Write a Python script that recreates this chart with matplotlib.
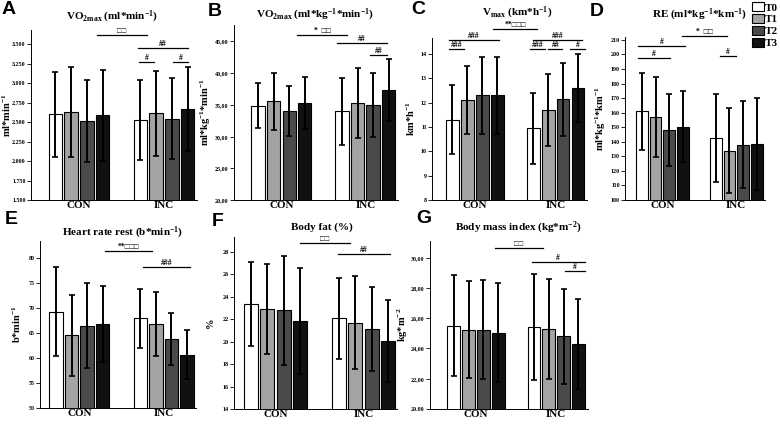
import numpy as np
import matplotlib.pyplot as plt
from matplotlib.patches import Patch

plt.rcParams['font.family'] = ['Liberation Serif', 'DejaVu Serif', 'DejaVu Sans']
plt.rcParams['font.weight'] = 'bold'
plt.rcParams['mathtext.default'] = 'regular'

groups = ["CON", "INC"]
times = ["T0", "T1", "T2", "T3"]
colors = ["white", "#a3a3a3", "#4a4a4a", "#111111"]

# rows: CON, INC ; cols: T0..T3
vo2_abs = [[2600, 2625, 2515, 2585], [2525, 2610, 2545, 2665]]
vo2_abs_sd = [[545, 575, 530, 580], [515, 550, 515, 540]]
vo2_rel = [[34.9, 35.6, 34.1, 35.3], [34.0, 35.3, 35.0, 37.4]]
vo2_rel_sd = [[3.6, 4.5, 3.95, 4.05], [5.25, 5.55, 5.1, 4.9]]
vmax = [[11.3, 12.1, 12.3, 12.3], [10.95, 11.7, 12.15, 12.6]]
vmax_sd = [[1.42, 1.4, 1.57, 1.57], [1.45, 1.48, 1.5, 1.4]]
re = [[161, 157, 148, 150.5], [142.5, 134, 138, 138.5]]
re_sd = [[26.5, 27.5, 24.5, 24.5], [30.2, 29, 30, 31.5]]
hr = [[69.3, 64.6, 66.5, 66.8], [68.0, 66.8, 63.8, 60.7]]
hr_sd = [[8.85, 8.1, 8.5, 7.65], [5.9, 6.45, 5.15, 4.85]]
fat = [[23.4, 22.9, 22.8, 21.85], [22.1, 21.7, 21.15, 20.1]]
fat_sd = [[3.75, 4.0, 4.85, 4.75], [3.6, 4.15, 3.75, 3.65]]
bmi = [[25.5, 25.25, 25.25, 25.05], [25.4, 25.3, 24.8, 24.3]]
bmi_sd = [[3.35, 3.2, 3.25, 3.25], [3.5, 3.3, 3.15, 3.0]]

# y ticks
a_ticks = [1500, 1750, 2000, 2250, 2500, 2750, 3000, 3250, 3500]
a_labels = ["1.500", "1.750", "2.000", "2.250", "2.500", "2.750", "3.000", "3.250", "3.500"]
b_ticks = [20, 25, 30, 35, 40, 45]
b_labels = ["20,00", "25,00", "30,00", "35,00", "40,00", "45,00"]
c_ticks = [8, 9, 10, 11, 12, 13, 14]
c_labels = ["8", "9", "10", "11", "12", "13", "14"]
d_ticks = [100, 110, 120, 130, 140, 150, 160, 170, 180, 190, 200, 210]
d_labels = [str(t) for t in d_ticks]
e_ticks = [50, 55, 60, 65, 70, 75, 80]
e_labels = [str(t) for t in e_ticks]
f_ticks = [14, 16, 18, 20, 22, 24, 26, 28]
f_labels = [str(t) for t in f_ticks]
g_ticks = [20, 22, 24, 26, 28, 30]
g_labels = ["20.00", "22,00", "24,00", "26,00", "28,00", "30,00"]

# significance marks: (x start, x end, y, label)
sq = "\u25a1"
sig_a = [(2.65, 5.83, 3616, sq * 2), (5.26, 8.43, 3449, "##"),
         (5.32, 6.27, 3270, "#"), (7.48, 8.43, 3270, "#")]
sig_b = [(2.51, 5.72, 46.0, "*  " + sq * 2), (5.08, 8.29, 44.76, "##"),
         (7.2, 8.29, 42.87, "##")]
sig_c = [(-0.21, 0.79, 14.21, "###"), (-0.21, 3.1, 14.58, "###"),
         (2.71, 5.69, 15.03, "**" + sq * 3), (5.36, 8.67, 14.58, "###"),
         (5.16, 6.22, 14.21, "###"), (6.42, 7.35, 14.21, "##"),
         (7.88, 8.87, 14.21, "#")]
sig_d = [(-0.28, 3.15, 205.8, "#"), (-0.28, 2.06, 197.6, "#"),
         (2.93, 6.22, 212.7, "*  " + sq * 2), (5.71, 6.88, 199, "#")]
sig_e = [(3.15, 6.17, 81.4, "**" + sq * 3), (5.58, 8.6, 78.2, "###")]
sig_f = [(3.0, 6.07, 28.81, sq * 2), (5.33, 8.52, 27.83, "##")]
sig_g = [(2.78, 5.99, 30.64, sq * 2), (5.26, 8.82, 29.72, "#"),
         (7.48, 8.82, 29.13, "#")]

W, H = 780, 424
gap = 5.4


def rect(l, t, r, b):
    return [l / W, 1 - b / H, (r - l) / W, (b - t) / H]


panels = [
    dict(letter="A", m=vo2_abs, s=vo2_abs_sd, sig=sig_a, box=(31, 30, 197, 200),
         xlim=(-1.55, 9.0), ylim=(1500, 3680), ticks=a_ticks, tl=a_labels,
         title=r"VO$_{2max}$ (ml*min$^{-1}$)", txy=(112, 17), lxy=(9, 10),
         ylab=r"ml*min$^{-1}$", yx=7),
    dict(letter="B", m=vo2_rel, s=vo2_rel_sd, sig=sig_b, box=(234, 25, 398, 200),
         xlim=(-1.55, 9.0), ylim=(20, 47.6), ticks=b_ticks, tl=b_labels,
         title=r"VO$_{2max}$ (ml*kg$^{-1}$*min$^{-1}$)", txy=(315, 15), lxy=(215, 11),
         ylab=r"ml*kg$^{-1}$*min$^{-1}$", yx=206),
    dict(letter="C", m=vmax, s=vmax_sd, sig=sig_c, box=(432, 38, 587, 200),
         xlim=(-1.36, 9.0), ylim=(8, 14.66), ticks=c_ticks, tl=c_labels,
         title=r"V$_{max}$ (km*h$^{-1}$)", txy=(517, 13), lxy=(418, 10),
         ylab=r"km*h$^{-1}$", yx=411),
    dict(letter="D", m=re, s=re_sd, sig=sig_d, box=(625, 37, 765, 200),
         xlim=(-1.23, 9.0), ylim=(100, 212), ticks=d_ticks, tl=d_labels,
         title=r"RE (ml*kg$^{-1}$*km$^{-1}$)", txy=(700, 15), lxy=(597, 11),
         ylab=r"ml*kg$^{-1}$*km$^{-1}$", yx=601),
    dict(letter="E", m=hr, s=hr_sd, sig=sig_e, box=(40, 241, 196, 408),
         xlim=(-1.02, 8.97), ylim=(50, 83.4), ticks=e_ticks, tl=e_labels,
         title=r"Heart rate rest (b*min$^{-1}$)", txy=(123, 233), lxy=(11, 220),
         ylab=r"b*min$^{-1}$", yx=17),
    dict(letter="F", m=fat, s=fat_sd, sig=sig_f, box=(234, 237, 397, 409),
         xlim=(-1.05, 8.96), ylim=(14, 29.34), ticks=f_ticks, tl=f_labels,
         title="Body fat (%)", txy=(322, 227), lxy=(218, 221),
         ylab="%", yx=210),
    dict(letter="G", m=bmi, s=bmi_sd, sig=sig_g, box=(430, 241, 588, 409),
         xlim=(-1.6, 9.04), ylim=(20, 31.1), ticks=g_ticks, tl=g_labels,
         title=r"Body mass index (kg*m$^{-2}$)", txy=(518, 228), lxy=(424, 218),
         ylab=r"kg*m$^{-2}$", yx=403),
]

fig = plt.figure(figsize=(7.8, 4.24), dpi=100)

for p in panels:
    ax = fig.add_axes(rect(*p["box"]))
    for g in range(2):
        for i in range(4):
            x = g * gap + i
            ax.bar(x, p["m"][g][i], width=0.86, color=colors[i], edgecolor="black",
                   linewidth=0.8, zorder=2)
            ax.errorbar(x, p["m"][g][i], yerr=p["s"][g][i], fmt="none", ecolor="black",
                        elinewidth=1.4, capsize=2.5, capthick=1.2, zorder=3)
    ax.set_xlim(*p["xlim"])
    ax.set_ylim(*p["ylim"])
    ax.set_yticks(p["ticks"])
    ax.set_yticklabels(p["tl"], fontsize=4.3)
    ax.set_xticks([1.5, gap + 1.5])
    ax.set_xticklabels(groups, fontsize=8)
    ax.tick_params(axis="x", length=0, pad=1)
    ax.tick_params(axis="y", length=3, width=0.6, pad=0.8)
    for s in ["top", "right"]:
        ax.spines[s].set_visible(False)
    ax.spines["left"].set_linewidth(0.7)
    ax.spines["bottom"].set_linewidth(0.7)
    l, t, r, b = p["box"]
    fig.text(p["yx"] / W, 1 - (t + b) / 2 / H, p["ylab"], rotation=90,
             ha="center", va="center", fontsize=7.5)
    for x1, x2, y, lab in p["sig"]:
        ax.plot([x1, x2], [y, y], color="black", lw=0.9, clip_on=False)
        ax.text((x1 + x2) / 2, y, lab, ha="center", va="bottom", fontsize=5.5,
                clip_on=False, family=["Liberation Serif", "DejaVu Sans"])
    fig.text(p["txy"][0] / W, 1 - p["txy"][1] / H, p["title"], ha="center",
             va="center", fontsize=8)
    fig.text(p["lxy"][0] / W, 1 - p["lxy"][1] / H, p["letter"], ha="center",
             va="center", fontsize=14, family="Liberation Sans", weight="bold")

handles = [Patch(facecolor=c, edgecolor="black", linewidth=0.8) for c in colors]
fig.legend(handles, times, loc="upper right", bbox_to_anchor=(1.0, 1.0),
           frameon=False, fontsize=8, handlelength=1.0, handleheight=0.9,
           labelspacing=0.12, handletextpad=0.1, borderpad=0.1, borderaxespad=0.1)

fig.savefig("out.png", dpi=100)
